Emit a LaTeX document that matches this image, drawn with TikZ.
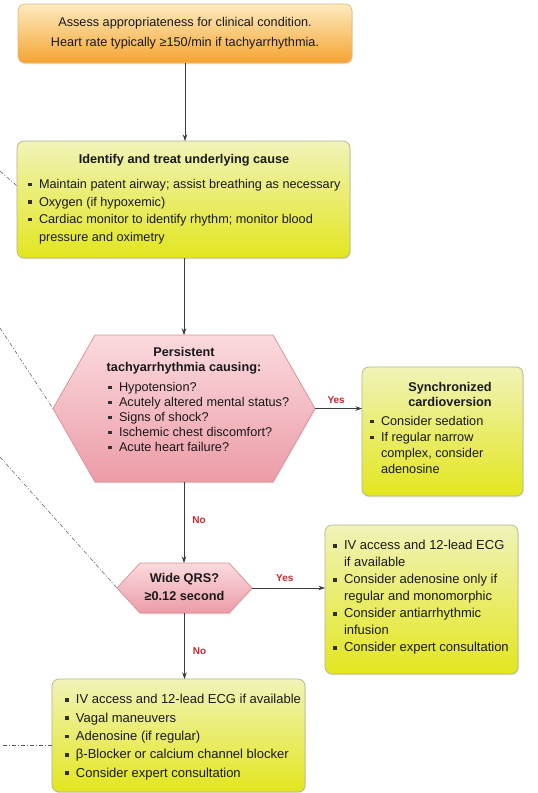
\documentclass[tikz,border=0pt]{standalone}
\usepackage{fontspec}
\setmainfont{Liberation Sans}
\usetikzlibrary{arrows.meta,calc,shadows}
\pgfdeclarelayer{background}
\pgfsetlayers{background,main}
\definecolor{orTop}{HTML}{FDEBC0}
\definecolor{orBot}{HTML}{F5A431}
\definecolor{orLine}{HTML}{E8B677}
\definecolor{yeTop}{HTML}{F0F3B8}
\definecolor{yeBot}{HTML}{E3E61E}
\definecolor{yeLine}{HTML}{B5B58C}
\definecolor{pkTop}{HTML}{FADADE}
\definecolor{pkBot}{HTML}{EC9CA7}
\definecolor{pkLine}{HTML}{D88E98}
\definecolor{lblRed}{HTML}{C8282F}
\definecolor{arrGray}{HTML}{3C3C3C}
\definecolor{bulC}{HTML}{303030}

\newcommand\bul{\makebox[11pt][l]{\textcolor{bulC}{\raisebox{2.2pt}{\rule{3.6pt}{3.6pt}}}}}
\newcommand\ind{\hspace*{11pt}}
\def\fs{12.7}
\newcommand\inbox[6]{\hspace*{#1}\parbox[c][#4][t]{#2}{\fontsize{\fs}{#5}\selectfont\raggedright #6}\hspace*{#3}}

\tikzset{
  softshadow/.style={drop shadow={opacity=0.18, shadow xshift=0.8pt, shadow yshift=-1.4pt}},
  flowbox/.style={rounded corners=7pt, line width=0.7pt, inner sep=0pt, outer sep=0pt, text=black!90, softshadow},
  obox/.style={flowbox, draw=orLine, top color=orTop, bottom color=orBot},
  ybox/.style={flowbox, draw=yeLine, top color=yeTop, bottom color=yeBot},
  hexarea/.style={inner sep=0pt, outer sep=0pt, text=black!90},
  hexshape/.style={draw=pkLine, line width=0.7pt, top color=pkTop, bottom color=pkBot, softshadow},
  flow/.style={draw=arrGray, line width=0.8pt, -{Stealth[length=6.5pt,width=4.5pt]}},
  lbl/.style={text=lblRed, font=\fontsize{10}{12}\selectfont\bfseries, inner sep=0pt},
  leader/.style={draw=black!65, line width=0.5pt, dash pattern=on 4pt off 2pt on 1pt off 2pt},
}

\begin{document}
\begin{tikzpicture}[x=1pt,y=-1pt]
\begin{pgfonlayer}{background}
\fill[white] (0,0) rectangle (538,793);
\end{pgfonlayer}
\useasboundingbox (0,0) rectangle (538,793);

\node[obox, minimum width=334pt, minimum height=59pt] (b1) at (185,33.5)
 {\inbox{0pt}{334pt}{0pt}{32.2pt}{20pt}{\centering Assess appropriateness for clinical condition.\\ Heart rate typically ≥150/min if tachyarrhythmia.}};

\node[ybox, minimum width=333pt, minimum height=117pt] (b2) at (183.5,199.5)
 {\inbox{11pt}{318pt}{4pt}{90.2pt}{17.5pt}{\makebox[\linewidth][c]{\bfseries Identify and treat underlying cause\hspace*{6pt}}\\[7.5pt]
 \bul Maintain patent airway; assist breathing as necessary\\
 \bul Oxygen (if hypoxemic)\\
 \bul Cardiac monitor to identify rhythm; monitor blood\\
 \ind pressure and oximetry}};

\node[hexarea, minimum width=262pt, minimum height=147pt] (h1) at (184,408.5)
 {\inbox{55pt}{190pt}{17pt}{122.2pt}{15pt}{\makebox[\linewidth][c]{\bfseries Persistent\hspace*{38pt}}\\
 \makebox[\linewidth][c]{\bfseries tachyarrhythmia causing:\hspace*{38pt}}\\[5pt]
 \bul Hypotension?\\ \bul Acutely altered mental status?\\ \bul Signs of shock?\\ \bul Ischemic chest discomfort?\\ \bul Acute heart failure?}};

\node[ybox, minimum width=161pt, minimum height=129pt] (s) at (442.5,431.5)
 {\inbox{8pt}{150pt}{3pt}{98.2pt}{16pt}{\makebox[\linewidth][c]{\hspace*{10pt}\bfseries Synchronized}\\[-1pt]
 \makebox[\linewidth][c]{\hspace*{10pt}\bfseries cardioversion}\\[3pt]
 \bul Consider sedation\\ \bul If regular narrow\\ \ind complex, consider\\ \ind adenosine}};

\node[hexarea, minimum width=135pt, minimum height=50pt] (q) at (184.5,588)
 {\inbox{0pt}{135pt}{0pt}{29.2pt}{18pt}{\centering\bfseries Wide QRS?\\ ≥0.12 second}};

\node[ybox, minimum width=193pt, minimum height=149pt] (r) at (421.5,599.5)
 {\def\fs{13}\inbox{8pt}{182pt}{3pt}{118.2pt}{17pt}{\bul IV access and 12-lead ECG\\ \ind if available\\ \bul Consider adenosine only if\\ \ind regular and monomorphic\\ \bul Consider antiarrhythmic\\ \ind infusion\\ \bul Consider expert consultation}};

\node[ybox, minimum width=253pt, minimum height=113pt] (b5) at (178.5,735.5)
 {\def\fs{13}\inbox{13pt}{236pt}{4pt}{82.2pt}{18.3pt}{\bul IV access and 12-lead ECG if available\\ \bul Vagal maneuvers\\ \bul Adenosine (if regular)\\ \bul β-Blocker or calcium channel blocker\\ \bul Consider expert consultation}};

\begin{pgfonlayer}{background}
 \path[hexshape] (h1.west) -- ($(h1.north west)+(42,0)$) -- ($(h1.north east)+(-42,0)$) -- (h1.east) -- ($(h1.south east)+(-42,0)$) -- ($(h1.south west)+(42,0)$) -- cycle;
 \path[hexshape] (q.west) -- ($(q.north west)+(23,0)$) -- ($(q.north east)+(-23,0)$) -- (q.east) -- ($(q.south east)+(-23,0)$) -- ($(q.south west)+(23,0)$) -- cycle;
\end{pgfonlayer}

\draw[flow] (b1.south) -- (b1.south |- b2.north);
\draw[flow] (h1.north |- b2.south) -- (h1.north);
\draw[flow] (h1.south) -- node[lbl, pos=0.47, right=8pt]{No} (h1.south |- q.north);
\draw[flow] (h1.east) -- node[lbl, pos=0.45, above=5pt]{Yes} (h1.east -| s.west);
\draw[flow] (q.east) -- node[lbl, pos=0.45, above=6pt]{Yes} (q.east -| r.west);
\draw[flow] (q.south) -- node[lbl, pos=0.57, right=8pt]{No} (q.south |- b5.north);

\coordinate (d1) at (0,171);
\coordinate (d2) at (0,328);
\coordinate (d3) at (0,457);
\coordinate (d4) at (3,745);
\draw[leader] (d1) -- (b2.west |- 0,186);
\draw[leader] (d2) -- (h1.west);
\draw[leader] (d3) -- (q.west);
\draw[leader] (d4) -- (b5.west |- 0,745);
\end{tikzpicture}
\end{document}
